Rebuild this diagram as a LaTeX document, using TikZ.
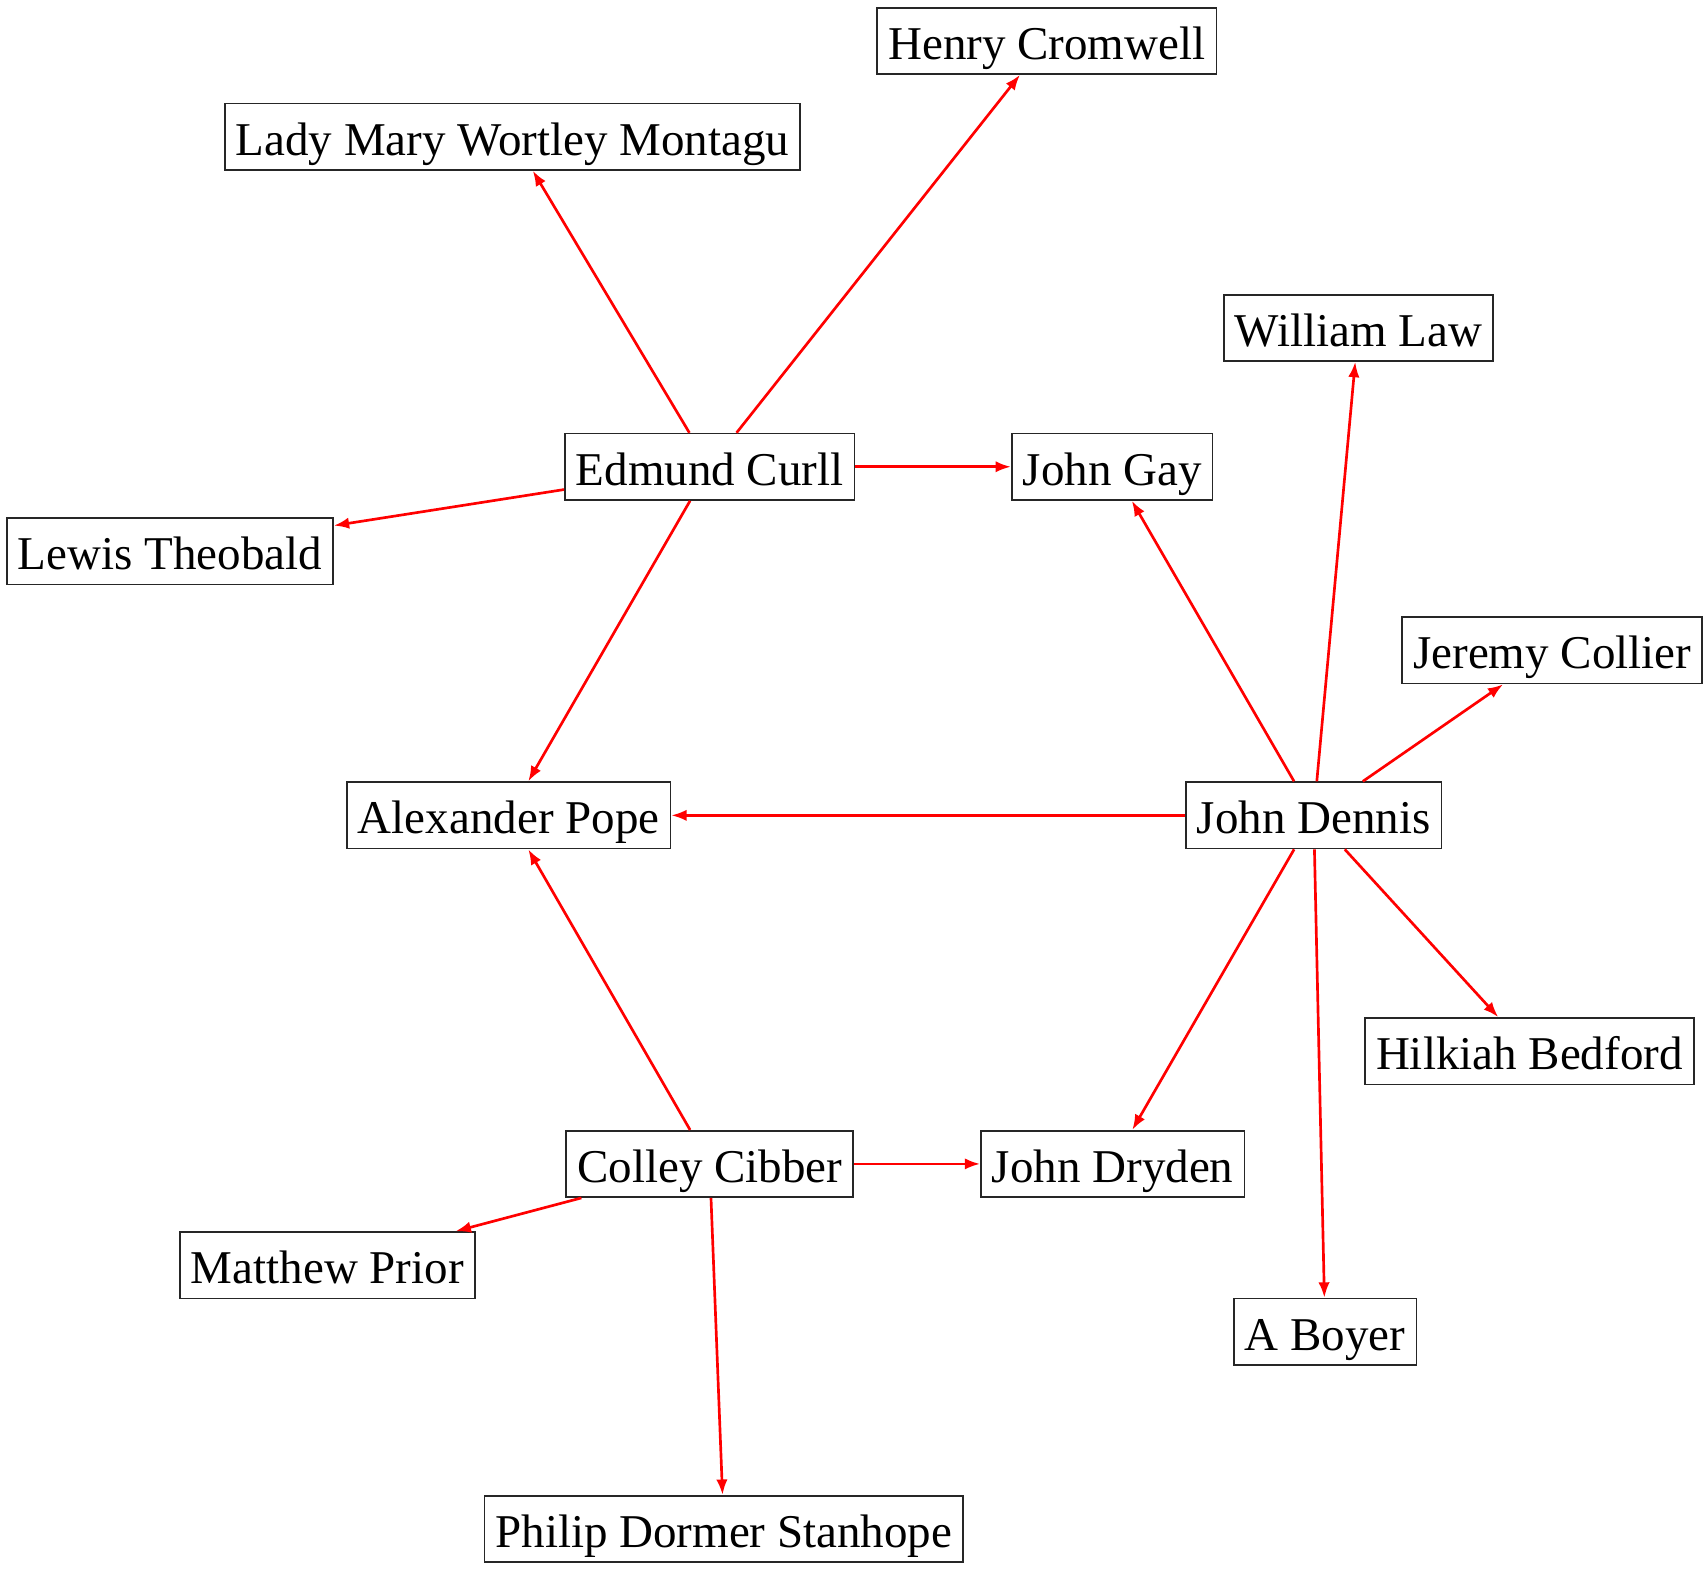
\documentclass[tikz,border=0pt]{standalone}
\usepackage{fontspec}
\setmainfont{Liberation Serif}
\usetikzlibrary{arrows.meta}
\tikzset{
    person/.style={draw=black!85, line width=0.5pt, rectangle, inner xsep=3.3pt, inner ysep=0pt,
        minimum height=19.9pt, text height=14pt, text depth=3pt,
        font=\fontsize{14.1}{16}\selectfont},
    link/.style={draw=red, line width=0.8pt, -{Latex[length=4.6pt,width=3.4pt]}}
}
\newcommand\personnode[3]{node[person] (#1) at (#2) {#3}}

\begin{document}
\begin{tikzpicture}[x=0.3268pt, y=-0.3268pt]
            % Рамка
            \useasboundingbox (0,0) rectangle (1568,1440);

            % Люди
            \path
                \personnode{cromwell}{961,37.5}{Henry Cromwell}
                \personnode{montagu}{470.5,125.5}{Lady Mary Wortley Montagu}
                \personnode{law}{1247,301}{William Law}
                \personnode{curll}{651.5,428.5}{Edmund Curll}
                \personnode{gay}{1021,428.5}{John Gay}
                \personnode{theobald}{156,506}{Lewis Theobald}
                \personnode{collier}{1425,597}{Jeremy Collier}
                \personnode{pope}{467,748.5}{Alexander Pope}
                \personnode{dennis}{1206,748.5}{John Dennis}
                \personnode{bedford}{1404,965}{Hilkiah Bedford}
                \personnode{cibber}{651.5,1068.5}{Colley Cibber}
                \personnode{dryden}{1021.5,1068.5}{John Dryden}
                \personnode{prior}{300.5,1161.5}{Matthew Prior}
                \personnode{boyer}{1216.5,1222.5}{A Boyer}
                \personnode{stanhope}{664.5,1403.5}{Philip Dormer Stanhope};

            % Связи от Edmund Curll
            \draw [link] (curll) -- (montagu);
            \draw [link] (curll) -- (cromwell);
            \draw [link] (curll) -- (gay);
            \draw [link] (curll) -- (theobald);
            \draw [link] (curll) -- (pope);

            % Связи от John Dennis
            \draw [link] (dennis) -- (gay);
            \draw [link] (dennis) -- (law);
            \draw [link] (dennis) -- (collier);
            \draw [link] (dennis) -- (pope);
            \draw [link] (dennis) -- (bedford);
            \draw [link] (dennis) -- (dryden);
            \draw [link] (dennis) -- (boyer);

            % Связи от Colley Cibber
            \draw [link] (cibber) -- (pope);
            \draw [link] (cibber) -- (dryden);
            \draw [link] (cibber) -- (prior);
            \draw [link] (cibber) -- (stanhope);
\end{tikzpicture}
\end{document}
